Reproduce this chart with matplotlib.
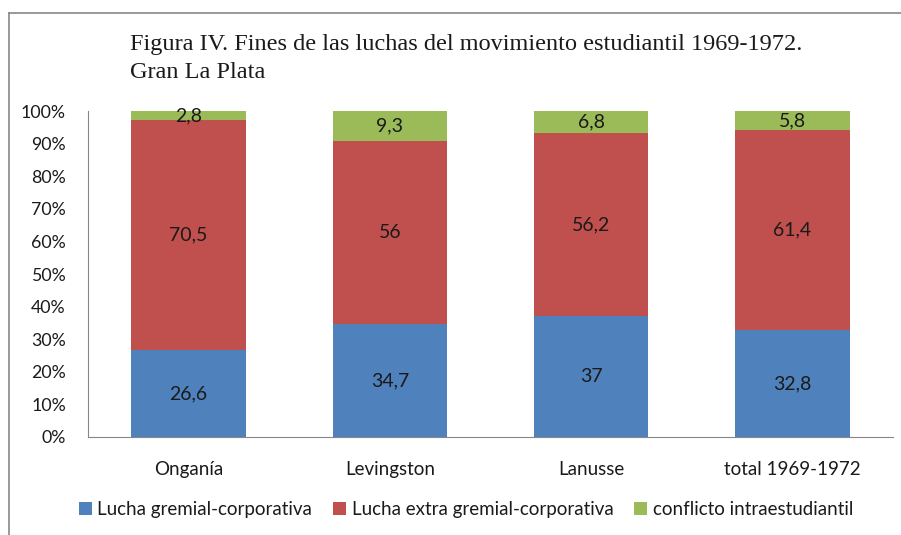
import numpy as np
import matplotlib.pyplot as plt
from matplotlib.lines import Line2D
from matplotlib.ticker import PercentFormatter

# Data
categories = ['Onganía', 'Levingston', 'Lanusse', 'total 1969-1972']
gremial = [26.6, 34.7, 37, 32.8]
extra_gremial = [70.5, 56, 56.2, 61.4]
intraestudiantil = [2.8, 9.3, 6.8, 5.8]
series_names = ['Lucha gremial-corporativa',
                'Lucha extra gremial-corporativa',
                'conflicto intraestudiantil']
colors = ['#4F81BD', '#C0504D', '#9BBB59']

series = np.array([gremial, extra_gremial, intraestudiantil], dtype=float)
shares = series / series.sum(axis=0) * 100  # 100% stacked

fnt = 'Lato'

fig = plt.figure(figsize=(9.01, 5.35), dpi=100)
ax = fig.add_axes([0.0977, 0.1832, 0.8933, 0.6093])

x = np.arange(len(categories))
bottom = np.zeros(len(categories))
for vals, share, name, col in zip(series, shares, series_names, colors):
    ax.bar(x, share, 0.57, bottom=bottom, color=col, label=name)
    for xi, b, s, v in zip(x, bottom, share, vals):
        ax.text(xi, b + s / 2, f'{v:g}'.replace('.', ','), ha='center', va='center',
                fontsize=14, color='#1a1a1a', family=fnt)
    bottom += share

ax.set_xlim(-0.5, len(categories) - 0.5)
ax.set_ylim(0, 100)
ax.set_yticks(np.arange(0, 101, 10))
ax.yaxis.set_major_formatter(PercentFormatter(decimals=0))
ax.set_xticks(x)
ax.set_xticklabels(categories)
ax.tick_params(axis='y', length=0, pad=16, labelsize=12.8, labelcolor='#1a1a1a')
ax.tick_params(axis='x', length=0, pad=17, labelsize=13.5, labelcolor='#1a1a1a')
for lab in ax.get_xticklabels() + ax.get_yticklabels():
    lab.set_family(fnt)
for side in ['top', 'right']:
    ax.spines[side].set_visible(False)
for side in ['left', 'bottom']:
    ax.spines[side].set_color('#868686')

# Title
fig.text(0.144, 0.916, 'Figura IV. Fines de las luchas del movimiento estudiantil 1969-1972.',
         fontsize=17.5, family='Liberation Serif', color='#1a1a1a', va='center')
fig.text(0.144, 0.864, 'Gran La Plata',
         fontsize=17.5, family='Liberation Serif', color='#1a1a1a', va='center')

# Legend
leg = fig.legend(loc='center', bbox_to_anchor=(0.517, 0.047), ncol=3, frameon=False,
                 handlelength=0.7, handleheight=0.7, handletextpad=0.3, columnspacing=1.1,
                 prop={'family': fnt, 'size': 13.5})
for t in leg.get_texts():
    t.set_color('#1a1a1a')

# Chart frame lines (left and top)
fig.add_artist(Line2D([0.010, 0.010], [0.0, 0.976], color='#888888', lw=1.2))
fig.add_artist(Line2D([0.010, 1.0], [0.976, 0.976], color='#888888', lw=1.2))

fig.savefig('out.png', dpi=100)
